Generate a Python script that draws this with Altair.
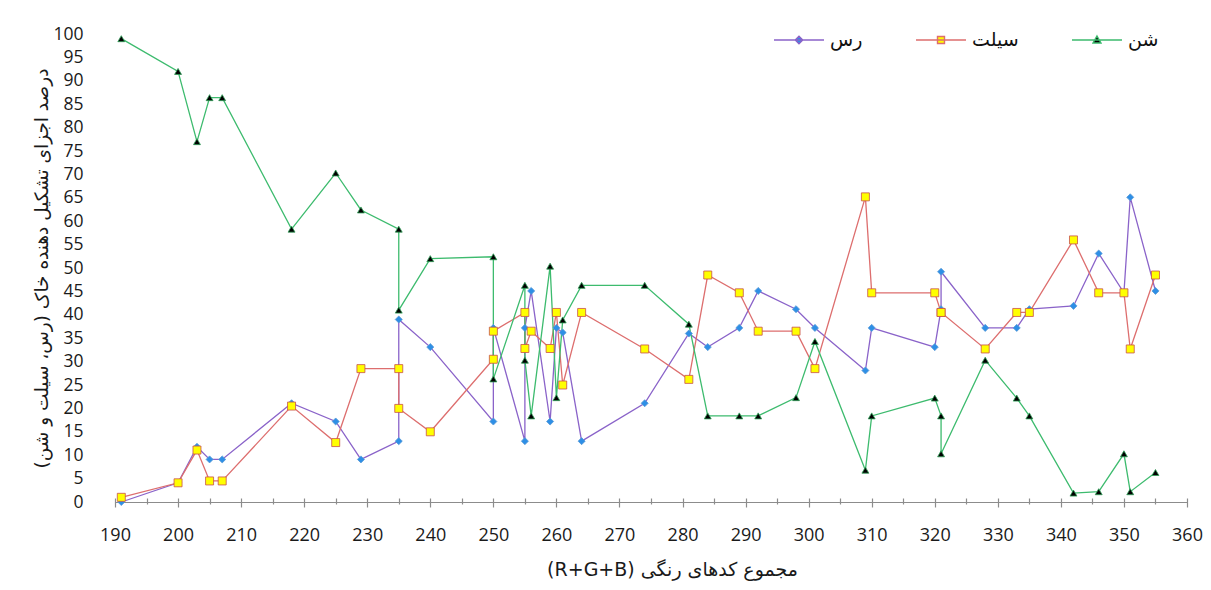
import altair as alt
import pandas as pd

# ---- data ----
rgb_sum = [191, 200, 203, 205, 207, 218, 225, 229, 235, 235, 240, 250, 250, 255, 255,
           256, 259, 260, 261, 264, 274, 281, 284, 289, 292, 298, 301, 309, 310, 320,
           321, 321, 328, 333, 335, 342, 346, 350, 351, 355]
clay = [0, 4.1, 11.8, 9.1, 9.1, 21.1, 17.2, 9.1, 13, 39, 33.1, 17.2, 37.2, 13, 37.2,
        45.1, 17.2, 37.2, 36.2, 13, 21.1, 36, 33.1, 37.2, 45.1, 41.2, 37.2, 28.1, 37.2, 33.1,
        41.2, 49.2, 37.2, 37.2, 41.2, 41.9, 53.1, 44.7, 65.1, 45.1]
silt = [1, 4.1, 11.1, 4.5, 4.5, 20.5, 12.7, 28.5, 28.5, 20, 15, 30.5, 36.5, 40.5, 32.8,
        36.5, 32.8, 40.5, 25, 40.5, 32.7, 26.2, 48.5, 44.7, 36.5, 36.5, 28.5, 65.2, 44.7, 44.7,
        40.5, 40.5, 32.7, 40.5, 40.5, 56, 44.7, 44.7, 32.7, 48.5]
sand = [99, 92, 77, 86.4, 86.4, 58.3, 70.3, 62.4, 58.3, 41, 52, 52.4, 26.3, 46.3, 30.3,
        18.4, 50.4, 22.3, 38.9, 46.3, 46.3, 38, 18.4, 18.4, 18.4, 22.3, 34.3, 6.8, 18.4, 22.2,
        18.4, 10.3, 30.3, 22.2, 18.4, 1.9, 2.2, 10.3, 2.2, 6.3]
series_names = ["رس", "سیلت", "شن"]
x_ticks = list(range(190, 361, 5))
y_ticks = list(range(0, 101, 5))

# ---- styles ----
line_colors = ["#8A63C9", "#DD6E6E", "#3DBB6E"]
marker_fill = ["#2E8FE6", "#FFFF00", "#000000"]
marker_stroke = ["#5B9BD5", "#C8504D", "#2E9E57"]
marker_shape = ["diamond", "square", "triangle-up"]
marker_size = [50, 64, 48]
legend_paths = [
    "M-1,0L1,0M0,-0.15L0.15,0L0,0.15L-0.15,0Z",
    "M-1,0L1,0M-0.14,-0.14L0.14,-0.14L0.14,0.14L-0.14,0.14Z",
    "M-1,0L1,0M0,-0.16L0.16,0.12L-0.16,0.12Z",
]

rows = []
for i, xv in enumerate(rgb_sum):
    for name, vals in zip(series_names, [clay, silt, sand]):
        rows.append({"idx": i, "rgb": xv, "series": name, "pct": vals[i]})
df = pd.DataFrame(rows)

x_title = "\u200e(R+G+B)\u200e  مجموع کدهای رنگی"
y_title = "\u200fدرصد اجزای تشکیل دهنده خاک (رس، سیلت و شن)\u200f"

x_enc = alt.X(
    "rgb:Q",
    scale=alt.Scale(domain=[190, 360], nice=False, zero=False),
    axis=alt.Axis(
        values=x_ticks,
        labelExpr="datum.value % 10 === 0 ? datum.label : ''",
        tickSize={"condition": {"test": "datum.value % 10 === 0", "value": 9}, "value": 6},
        tickColor="#8c8c8c",
        tickWidth=1.2,
        domain=False,
        offset=-4,
        grid=False,
        labelFont="Open Sans",
        labelFontSize=18,
        labelColor="#1a1a1a",
        labelPadding=19,
        labelFlush=False,
        labelOverlap=False,
        title=x_title,
        titleFont="DejaVu Sans",
        titleFontSize=19,
        titleFontWeight="normal",
        titleColor="#1a1a1a",
        titleX=557,
        titleY=71,
        titleAlign="center",
        titleBaseline="middle",
    ),
)
y_enc = alt.Y(
    "pct:Q",
    scale=alt.Scale(domain=[0, 100], nice=False),
    axis=alt.Axis(
        values=y_ticks,
        domain=False,
        ticks=False,
        labelPadding=32,
        labelFont="Open Sans",
        labelFontSize=17.5,
        labelColor="#1a1a1a",
        grid=True,
        gridColor="#8c8c8c",
        gridWidth=1.2,
        gridOpacity={"condition": {"test": "datum.value === 0", "value": 1}, "value": 0},
        title=y_title,
        titleFont="DejaVu Sans",
        titleFontSize=18.5,
        titleFontWeight="normal",
        titleColor="#1a1a1a",
        titleAngle=270,
        titleX=-74,
        titleY=234,
        titleAlign="center",
        titleBaseline="middle",
    ),
)

base = alt.Chart(df)
layers = []
for k, name in enumerate(series_names):
    sub = base.transform_filter(alt.datum.series == name)
    layers.append(
        sub.mark_line(color=line_colors[k], strokeWidth=1.3).encode(
            x=x_enc, y=y_enc, order=alt.Order("idx:Q")
        )
    )
for k, name in enumerate(series_names):
    sub = base.transform_filter(alt.datum.series == name)
    layers.append(
        sub.mark_point(
            shape=marker_shape[k], filled=True, fill=marker_fill[k], stroke=marker_stroke[k],
            strokeWidth=0.8, size=marker_size[k], opacity=1,
        ).encode(x=x_enc, y=y_enc)
    )

leg = alt.Legend(
    title=None, orient="none", legendX=658, legendY=-20, direction="horizontal",
    symbolSize=2500, symbolStrokeWidth=1.4, labelFont="DejaVu Sans", labelFontSize=19,
    labelColor="#111111", columnPadding=50, labelOffset=5,
)
legend_layer = (
    alt.Chart(pd.DataFrame({"series": series_names}))
    .transform_filter("false")
    .mark_point(filled=False, opacity=1)
    .encode(
        shape=alt.Shape("series:N", scale=alt.Scale(domain=series_names, range=legend_paths), legend=leg),
        stroke=alt.Stroke("series:N", scale=alt.Scale(domain=series_names, range=line_colors), legend=leg),
        fill=alt.Fill("series:N", scale=alt.Scale(domain=series_names, range=marker_fill), legend=leg),
    )
)
layers.append(legend_layer)

chart = (
    alt.layer(*layers)
    .properties(
        width=1072,
        height=468,
        autosize=alt.AutoSizeParams(type="none"),
        padding={"left": 107, "top": 26, "right": 16, "bottom": 80},
        background="white",
    )
    .configure_view(stroke=None)
)

chart.save("out.html", embed_options={"renderer": "svg", "actions": False})
